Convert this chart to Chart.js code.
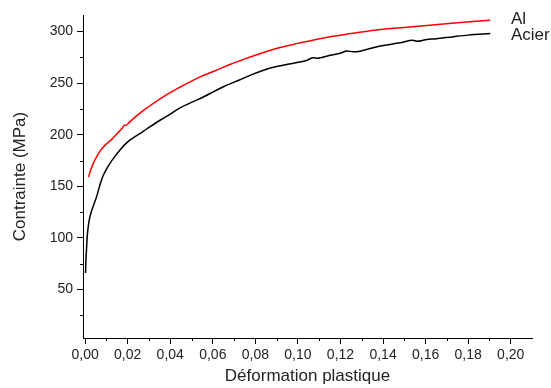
<!DOCTYPE html>
<html>
<head>
<meta charset="utf-8">
<script src="https://cdn.jsdelivr.net/npm/chart.js@4"></script>
<style>
  html, body { margin: 0; padding: 0; background: #fff; }
  #wrap { width: 551px; height: 388px; }
</style>
</head>
<body>
<div id="wrap"><canvas id="graphe"></canvas></div>
<script>
// courbes contrainte / deformation
var alX = [0.0016, 0.0025, 0.0038, 0.0055, 0.0075, 0.0100, 0.0125, 0.0150, 0.0175, 0.0185, 0.0192, 0.0205,
    0.0240, 0.0290, 0.0340, 0.0385, 0.0445, 0.0500, 0.0540, 0.0600, 0.0640, 0.0680, 0.0725, 0.0800,
    0.0916, 0.1000, 0.1152, 0.1250, 0.1387, 0.1500, 0.1620, 0.1750, 0.1904];
var alY = [159, 165, 172, 179, 185.5, 191, 195.5, 201, 206.5, 209.5, 209, 211.5,
    218, 226, 233, 239, 246, 252, 256, 261, 264.5, 268, 271.5, 277,
    284.5, 288.5, 295, 298, 302, 304, 306, 308.5, 311];

var acierX = [0.0002, 0.0004, 0.0007, 0.0010, 0.0014, 0.0020, 0.0030, 0.0042, 0.0054, 0.0065, 0.0075, 0.0085,
    0.0100, 0.0116, 0.0140, 0.0163, 0.0200, 0.0257, 0.0300, 0.0352, 0.0400, 0.0446, 0.0508, 0.0560,
    0.0602, 0.0650, 0.0725, 0.0780, 0.0838, 0.0900, 0.0995, 0.1040, 0.1073, 0.1090, 0.1152, 0.1200,
    0.1230, 0.1260, 0.1277, 0.1330, 0.1387, 0.1418, 0.1480, 0.1540, 0.1560, 0.1600, 0.1650, 0.1732,
    0.1800, 0.1904];
var acierY = [66, 80, 91, 102, 110, 118, 126, 133, 140, 148, 155, 160.5,
    166.5, 172, 179, 185, 193, 201, 207, 214, 220, 226, 232, 237,
    241.5, 246.5, 253, 258, 262.5, 266, 270, 272, 274.5, 274, 277, 279,
    281, 280.5, 280.5, 283, 286, 287, 289, 291.5, 290.5, 292, 293, 295,
    296.5, 298];

var xTicks = [0, 0.02, 0.04, 0.06, 0.08, 0.10, 0.12, 0.14, 0.16, 0.18, 0.20];
var xMinor = [0.01, 0.03, 0.05, 0.07, 0.09, 0.11, 0.13, 0.15, 0.17, 0.19];
var yTicks = [50, 100, 150, 200, 250, 300];
var yMinor = [25, 75, 125, 175, 225, 275];

function points(xs, ys) {
    return xs.map(function (x, i) { return { x: x, y: ys[i] }; });
}

var police = '"Liberation Sans", Arial, sans-serif';
var gris = '#222';

// petits traits secondaires + legende texte
var extras = {
    id: 'extras',
    afterDraw: function (chart) {
        var ctx = chart.ctx;
        var xs = chart.scales.x, ys = chart.scales.y;
        var area = chart.chartArea;
        ctx.save();
        ctx.strokeStyle = '#000';
        ctx.lineWidth = 1;
        ctx.beginPath();
        xMinor.forEach(function (v) {
            var px = Math.round(xs.getPixelForValue(v)) + 0.5;
            ctx.moveTo(px, area.bottom);
            ctx.lineTo(px, area.bottom + 3);
        });
        yMinor.forEach(function (v) {
            var py = Math.round(ys.getPixelForValue(v)) + 0.5;
            ctx.moveTo(area.left, py);
            ctx.lineTo(area.left - 3, py);
        });
        ctx.stroke();

        ctx.fillStyle = gris;
        ctx.font = '17px ' + police;
        ctx.textBaseline = 'middle';
        ctx.textAlign = 'left';
        chart.data.datasets.forEach(function (ds, i) {
            ctx.fillText(ds.label, 511, 19 + i * 16);
        });
        ctx.restore();
    }
};

var ctx = document.getElementById('graphe');
var myChart = new Chart(ctx, {
    type: 'scatter',
    data: {
        datasets: [{
            label: 'Al',
            data: points(alX, alY),
            showLine: true,
            borderColor: '#ff0000',
            borderWidth: 1.5,
            pointRadius: 0,
            cubicInterpolationMode: 'monotone'
        }, {
            label: 'Acier',
            data: points(acierX, acierY),
            showLine: true,
            borderColor: '#000000',
            borderWidth: 1.5,
            pointRadius: 0,
            cubicInterpolationMode: 'monotone'
        }]
    },
    options: {
        responsive: true,
        maintainAspectRatio: false,
        animation: false,
        layout: { padding: { left: 0, top: 15, right: 19, bottom: 0 } },
        plugins: {
            legend: { display: false },
            tooltip: { enabled: false }
        },
        scales: {
            x: {
                type: 'linear',
                min: -0.001,
                max: 0.21,
                afterBuildTicks: function (scale) {
                    scale.ticks = xTicks.map(function (v) { return { value: v }; });
                },
                afterFit: function (scale) { scale.height = 50; },
                grid: { drawOnChartArea: false, drawTicks: true, tickLength: 6, color: '#000' },
                border: { display: true, color: '#000', width: 1 },
                ticks: {
                    color: gris,
                    font: { family: police, size: 14 },
                    padding: 3,
                    maxRotation: 0,
                    autoSkip: false,
                    callback: function (v) { return v.toFixed(2).replace('.', ','); }
                },
                title: {
                    display: true,
                    text: 'Déformation plastique',
                    color: gris,
                    font: { family: police, size: 17 },
                    padding: { top: 0, bottom: 1 }
                }
            },
            y: {
                type: 'linear',
                min: 3,
                max: 316,
                afterBuildTicks: function (scale) {
                    scale.ticks = yTicks.map(function (v) { return { value: v }; });
                },
                afterFit: function (scale) { scale.width = 83; },
                grid: { drawOnChartArea: false, drawTicks: true, tickLength: 6, color: '#000' },
                border: { display: true, color: '#000', width: 1 },
                ticks: {
                    color: gris,
                    font: { family: police, size: 14 },
                    padding: 4,
                    autoSkip: false
                },
                title: {
                    display: true,
                    text: 'Contrainte (MPa)',
                    color: gris,
                    font: { family: police, size: 17 },
                    padding: { top: 10, bottom: 0 }
                }
            }
        }
    },
    plugins: [extras]
});
</script>
</body>
</html>
